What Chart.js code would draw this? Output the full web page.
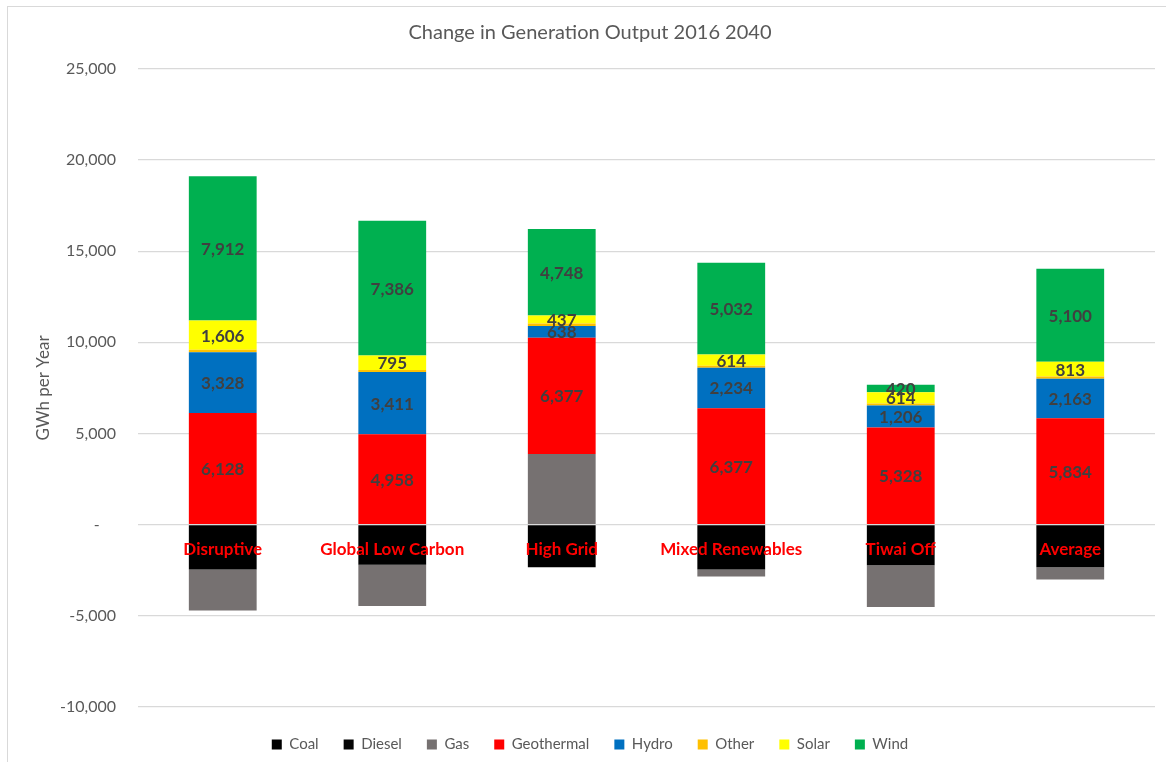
<!DOCTYPE html>
<html>
<head>
<meta charset="utf-8">
<script src="https://cdn.jsdelivr.net/npm/chart.js@4/dist/chart.umd.min.js"></script>
<style>
  html, body { margin: 0; padding: 0; background: #fff; overflow: hidden; width: 1166px; height: 762px; }
  #frame { position: absolute; left: 7px; top: 6px; width: 1300px; height: 900px; border-left: 1px solid #d9d9d9; border-top: 1px solid #d9d9d9; }
  #wrap { position: absolute; left: 0; top: 0; width: 1180px; height: 762px; }
</style>
</head>
<body>
<div id="frame"></div>
<div id="wrap"><canvas id="c" width="1180" height="762"></canvas></div>
<script>
const categories = ['Disruptive', 'Global Low Carbon', 'High Grid', 'Mixed Renewables', 'Tiwai Off', 'Average'];
const coal       = [-2470, -2200, -2340, -2470, -2230, -2340];
const diesel     = [0, 0, 0, 0, 0, 0];
const gas        = [-2250, -2270, 3875, -380, -2300, -680];
const geothermal = [6128, 4958, 6377, 6377, 5328, 5834];
const hydro      = [3328, 3411, 638, 2234, 1206, 2163];
const other      = [143, 117, 150, 107, 107, 125];
const solar      = [1606, 795, 437, 614, 614, 813];
const wind       = [7912, 7386, 4748, 5032, 420, 5100];
const yTicks     = [-10000, -5000, 0, 5000, 10000, 15000, 20000, 25000];

const FONT = 'Lato, "Open Sans", "DejaVu Sans", sans-serif';
const GREY = '#595959';

const labelled = ['Geothermal', 'Hydro', 'Solar', 'Wind'];
const dataLabels = {
  id: 'dataLabels',
  afterDatasetsDraw(chart) {
    const ctx = chart.ctx;
    ctx.save();
    ctx.font = 'bold 17px ' + FONT;
    ctx.fillStyle = '#404040';
    ctx.textAlign = 'center';
    ctx.textBaseline = 'middle';
    chart.data.datasets.forEach((ds, i) => {
      if (!labelled.includes(ds.label)) return;
      const meta = chart.getDatasetMeta(i);
      meta.data.forEach((el, j) => {
        const v = ds.data[j];
        if (!v) return;
        const p = el.getProps(['x', 'y', 'base'], true);
        ctx.fillText(v.toLocaleString('en-US'), p.x, (p.y + p.base) / 2 + 1);
      });
    });
    ctx.restore();
  }
};

const mk = (label, data, color) => ({ label, data, backgroundColor: color, borderWidth: 0 });

new Chart(document.getElementById('c'), {
  type: 'bar',
  data: {
    labels: categories,
    datasets: [
      mk('Coal', coal, '#000000'),
      mk('Diesel', diesel, '#050505'),
      mk('Gas', gas, '#767171'),
      mk('Geothermal', geothermal, '#FF0000'),
      mk('Hydro', hydro, '#0070C0'),
      mk('Other', other, '#FFC000'),
      mk('Solar', solar, '#FFFF00'),
      mk('Wind', wind, '#00B050')
    ]
  },
  options: {
    responsive: false,
    animation: false,
    devicePixelRatio: 1,
    categoryPercentage: 0.4,
    barPercentage: 1,
    layout: { padding: { left: 25, right: 25, top: 0, bottom: 0 } },
    plugins: {
      title: {
        display: true,
        text: 'Change in Generation Output 2016 2040',
        color: GREY,
        font: { family: FONT, size: 20, weight: 'normal' },
        padding: { top: 21, bottom: 24 }
      },
      legend: {
        position: 'bottom',
        title: { display: true, text: '', font: { size: 1 }, padding: { top: 4, bottom: 0 } },
        labels: {
          color: GREY,
          font: { family: FONT, size: 15, lineHeight: 1.4 },
          boxWidth: 10, boxHeight: 10,
          padding: 25
        }
      },
      tooltip: { enabled: false }
    },
    scales: {
      x: {
        stacked: true,
        position: { y: 0 },
        grid: { display: false, drawTicks: false },
        border: { display: false },
        ticks: {
          z: 1,
          autoSkip: false,
          maxRotation: 0,
          color: '#FF0000',
          font: { family: FONT, size: 17, weight: 'bold' },
          padding: 15
        }
      },
      y: {
        stacked: true,
        min: -10000, max: 25000,
        afterBuildTicks(scale) { scale.ticks = yTicks.map(v => ({ value: v })); },
        afterFit(scale) { scale.width = 113; },
        grid: { color: '#d9d9d9', lineWidth: 1.3, drawTicks: false },
        border: { display: false },
        ticks: {
          color: GREY,
          font: { family: FONT, size: 16 },
          padding: 22,
          callback: v => v === 0 ? '-    ' : v.toLocaleString('en-US')
        },
        title: {
          display: true,
          text: 'GWh per Year',
          color: GREY,
          font: { family: FONT, size: 17 },
          padding: { top: 8, bottom: 0 }
        }
      }
    }
  },
  plugins: [dataLabels]
});
</script>
</body>
</html>
